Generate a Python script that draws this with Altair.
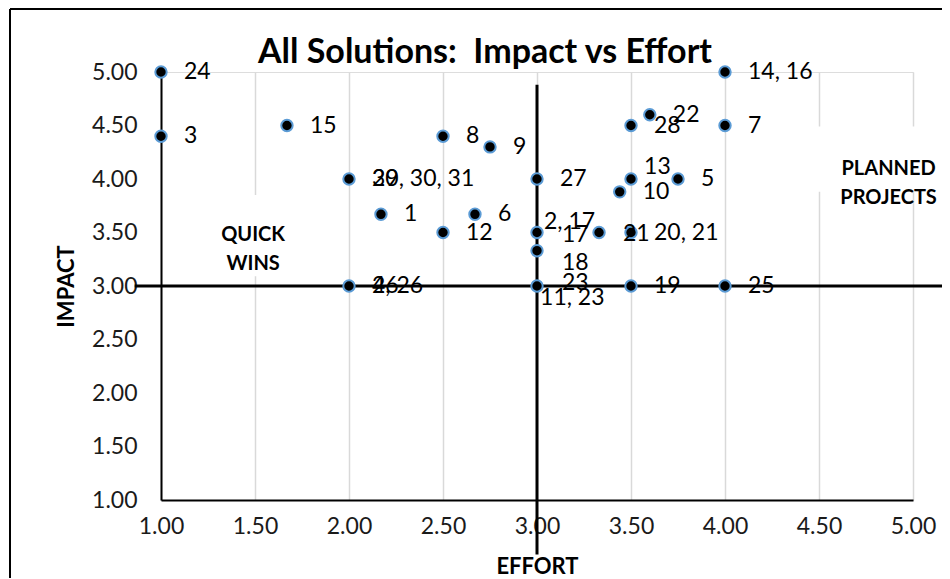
import altair as alt
import pandas as pd

# ---- data points (EFFORT, IMPACT) ----
effort = [1, 1, 1.67, 2, 2.17, 2.5, 2.75, 2.67, 2.5, 2, 3, 3, 3, 3, 3.33,
          3.5, 3.5, 4, 3.44, 3.5, 3.75, 3.5, 3.6, 4, 4]
impact = [5, 4.4, 4.5, 4, 3.67, 4.4, 4.3, 3.67, 3.5, 3, 4, 3.5, 3.33, 3, 3.5,
          3.5, 3, 3, 3.88, 4, 4, 4.5, 4.6, 4.5, 5]

# ---- data labels (text and its anchor, in data units) ----
label_text = ["24", "3", "15", "29, 30, 31", "30", "1", "8", "9", "6", "12",
              "4, 26", "26", "27", "2, 17", "17", "18", "23", "11, 23", "21",
              "20, 21", "19", "25", "10", "13", "5", "28", "22", "7", "14, 16"]
label_effort = [1, 1, 1.67, 2, 2, 2.17, 2.5, 2.75, 2.67, 2.5,
                2, 2, 3, 2.915, 3.01, 3.01, 3.01, 2.894, 3.335,
                3.5, 3.5, 4, 3.44, 3.447, 3.75, 3.5, 3.6, 4, 4]
label_impact = [5, 4.4, 4.5, 4, 4, 3.67, 4.4, 4.3, 3.67, 3.5,
                3, 3, 4, 3.6, 3.477, 3.215, 3.028, 2.888, 3.486,
                3.5, 3, 3, 3.88, 4.112, 4, 4.5, 4.6, 4.5, 5]

# ---- quadrant divider lines ----
quad_x1 = [0.86, 3]
quad_x2 = [5.17, 3]
quad_y1 = [3, 0.49]
quad_y2 = [3, 4.88]

# ---- quadrant annotations ----
note_text = ["QUICK\nWINS", "PLANNED\nPROJECTS"]
note_effort = [1.49, 4.87]
note_impact = [3.475, 4.09]
box_x1 = [1.21, 4.46]
box_x2 = [1.77, 5.15]
box_y1 = [3.09, 3.88]
box_y2 = [3.85, 4.49]

tick_values = [1, 1.5, 2, 2.5, 3, 3.5, 4, 4.5, 5]

points = pd.DataFrame({"effort": effort, "impact": impact})
labels = pd.DataFrame({"text": label_text, "effort": label_effort, "impact": label_impact})
quads = pd.DataFrame({"x1": quad_x1, "x2": quad_x2, "y1": quad_y1, "y2": quad_y2})
notes = pd.DataFrame({"text": note_text, "effort": note_effort, "impact": note_impact})
boxes = pd.DataFrame({"x1": box_x1, "x2": box_x2, "y1": box_y1, "y2": box_y2})

FONT = "Lato"

x_scale = alt.Scale(domain=[1, 5], nice=False, zero=False)
y_scale = alt.Scale(domain=[1, 5], nice=False, zero=False)

x_axis = alt.Axis(
    title="EFFORT", values=tick_values, format=".2f",
    grid=True, gridColor="#d9d9d9", gridWidth=1.5,
    domainColor="black", domainWidth=2,
    ticks=False, tickSize=0, labelFlush=False, labelOverlap=False,
    labelFont=FONT, labelFontSize=23, labelColor="#1a1a1a", labelPadding=15,
    titleFont=FONT, titleFontSize=22, titleFontWeight="bold", titleColor="black",
    titleY=73, titleBaseline="alphabetic",
)
y_axis = alt.Axis(
    title="IMPACT", values=tick_values, format=".2f",
    grid=False, domainColor="black", domainWidth=2,
    ticks=False, tickSize=0, labelOverlap=False,
    labelFont=FONT, labelFontSize=23, labelColor="#1a1a1a", labelPadding=24,
    titleFont=FONT, titleFontSize=22, titleFontWeight="bold", titleColor="black",
    titleX=-95, titleY=214, titleAlign="center", titleBaseline="middle",
)

X = lambda f: alt.X(f, type="quantitative", scale=x_scale, axis=x_axis)
Y = lambda f: alt.Y(f, type="quantitative", scale=y_scale, axis=y_axis)

box_layer = alt.Chart(boxes).mark_rect(fill="white", stroke="white", strokeWidth=0).encode(
    x=X("x1"), x2="x2", y=Y("y1"), y2="y2"
)

quad_layer = alt.Chart(quads).mark_rule(color="black", strokeWidth=3).encode(
    x=X("x1"), x2="x2", y=Y("y1"), y2="y2"
)

point_layer = alt.Chart(points).mark_circle(
    size=130, fill="black", stroke="#5b9bd5", strokeWidth=2, opacity=1, fillOpacity=1
).encode(x=X("effort"), y=Y("impact"))

label_layer = alt.Chart(labels).mark_text(
    align="left", baseline="middle", dx=23, font=FONT, fontSize=23, color="black"
).encode(x=X("effort"), y=Y("impact"), text="text:N")

note_layer = alt.Chart(notes).mark_text(
    align="center", baseline="middle", lineBreak="\n", lineHeight=29,
    font=FONT, fontSize=20, fontWeight="bold", color="black"
).encode(x=X("effort"), y=Y("impact"), text="text:N")

frame_df = pd.DataFrame({"a": [0]})
frame_left = alt.Chart(frame_df).mark_rule(color="black", strokeWidth=2).encode(
    x=alt.value(-151), y=alt.value(-63), y2=alt.value(560)
)
frame_top = alt.Chart(frame_df).mark_rule(color="black", strokeWidth=2).encode(
    x=alt.value(-151), x2=alt.value(800), y=alt.value(-63)
)

chart = alt.layer(
    box_layer, quad_layer, point_layer, label_layer, note_layer, frame_left, frame_top
).properties(
    width=752, height=428,
    title=alt.TitleParams(
        "All Solutions:\u00a0 Impact vs Effort", font=FONT, fontSize=34, fontWeight="bold",
        color="black", anchor="middle", frame="group", offset=0, dx=-52, dy=62
    ),
    padding={"left": 153, "top": 64, "right": 29, "bottom": 78},
    autosize=alt.AutoSizeParams(type="none"),
).configure_view(stroke="transparent").configure(background="white")

chart.save("out.html", embed_options={"renderer": "svg", "actions": False})
